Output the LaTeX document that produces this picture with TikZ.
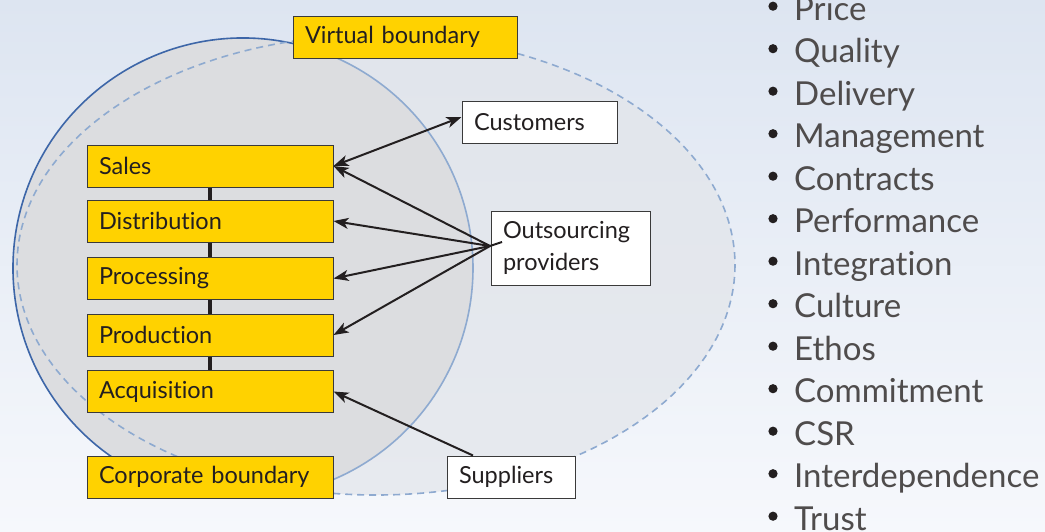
\documentclass[tikz,border=0pt]{standalone}
\usepackage{fontspec}
\setmainfont{Lato}[Ligatures={NoCommon,NoDiscretionary}]
\usepackage{tikz}
\usetikzlibrary{arrows.meta,calc}

\definecolor{boxyellow}{HTML}{FFD200}
\definecolor{boxline}{HTML}{3A3A3A}
\definecolor{ink}{HTML}{231F20}
\definecolor{corpfill}{HTML}{DCDDE0}
\definecolor{virtfill}{HTML}{E2E5EA}
\definecolor{darkrim}{HTML}{3D66A8}
\definecolor{lightrim}{HTML}{8EAAD0}
\definecolor{bgtop}{HTML}{DDE5F1}
\definecolor{bgbottom}{HTML}{F6F8FC}

\begin{document}
\begin{tikzpicture}[x={(1pt,0pt)},y={(0pt,-1pt)},
  stage/.style={draw=boxline,line width=1pt,fill=boxyellow,minimum width=246pt,minimum height=42pt,
    text width=222pt,inner xsep=12pt,align=left,text=ink,font=\fontsize{23.5}{26}\selectfont},
  party/.style={draw=boxline,line width=1pt,fill=white,minimum height=42pt,
    inner xsep=12pt,align=left,text=ink,font=\fontsize{23.5}{32}\selectfont},
  link/.style={line width=4pt,draw=ink},
  arr/.style={line width=2pt,draw=ink,-{Stealth[length=15pt,width=11pt,inset=4pt]}},
  listitem/.style={anchor=base west,inner sep=0pt,text=ink!80,font=\fontsize{33}{36}\selectfont}]
\useasboundingbox (0,0) rectangle (1045,531);
% ---- sfondo ----
\shade[top color=bgtop,bottom color=bgbottom] (0,0) rectangle (1045,531);
% ---- confini ----
\fill[virtfill,opacity=0.7] (376,265) ellipse [x radius=359,y radius=230];
\fill[corpfill] (243,268) circle [radius=230];
\draw[lightrim,line width=1.6pt] (243,268) ++(-245:230) arc[start angle=-245,end angle=-435,radius=230];
\draw[darkrim,line width=1.6pt] (243,268) ++(-75:230) arc[start angle=-75,end angle=-245,radius=230];
\draw[lightrim,line width=1.6pt,dash pattern=on 7pt off 5pt] (376,265) ellipse [x radius=359,y radius=230];

% ---- catena interna ----
\node[stage] (sales) at (210,166) {Sales};
\node[stage] (distr) at (210,221) {Distribution};
\node[stage] (proc)  at (210,278.5) {Processing};
\node[stage] (prod)  at (210,335) {Production};
\node[stage] (acq)   at (210,391.5) {Acquisition};
\draw[link] (sales.south) -- (distr.north);
\draw[link] (distr.south) -- (proc.north);
\draw[link] (proc.south) -- (prod.north);
\draw[link] (prod.south) -- (acq.north);

\node[stage] (corp) at (210,477) {Corporate boundary};
\node[stage,minimum width=224pt,text width=200pt] (virt) at (405,37) {Virtual boundary};

% ---- attori esterni ----
\node[party,minimum width=155pt,text width=131pt] (cust) at (539.5,122) {Customers};
\node[party,minimum width=159pt,minimum height=74pt,text width=135pt] (outs) at (570.5,248) {Outsourcing\\providers};
\node[party,minimum width=128pt,text width=104pt] (supp) at (511,477) {Suppliers};

\coordinate (hub) at (490,246);
\coordinate (stub) at (502,242);
\draw[line width=2pt,draw=ink] (hub) -- (stub);
\draw[line width=2pt,draw=ink,{Stealth[length=15pt,width=11pt,inset=4pt]}-{Stealth[length=15pt,width=11pt,inset=4pt]}]
  (sales.east) -- ([yshift=5pt]cust.west);
\foreach \dest in {sales,distr,proc,prod}
  \draw[arr] (hub) -- (\dest.east);
\draw[arr] ([xshift=-38pt]supp.north) -- (acq.east);

% ---- elenco ----
\foreach \word [count=\i from 0] in {Price,Quality,Delivery,Management,Contracts,Performance,
    Integration,Culture,Ethos,Commitment,CSR,Interdependence,Trust}{
  \fill[ink] (773,{20.2+42.5*\i-14}) circle (4.6pt);
  \node[listitem] (item\i) at (794,{20.2+42.5*\i}) {\word};
}
\end{tikzpicture}
\end{document}
